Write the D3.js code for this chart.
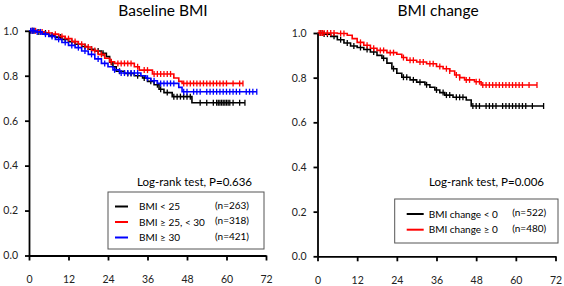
<!DOCTYPE html>
<html>
<head>
<meta charset="utf-8">
<script src="https://cdn.jsdelivr.net/npm/d3@7"></script>
<style>
  body { margin: 0; background: #fff; }
  svg { display: block; font-family: Lato, "Open Sans", sans-serif; }
</style>
</head>
<body>
<script>
// Kaplan-Meier knots: [month, survival]
const bmiLow = [[0,1.0],[2,0.995],[4,0.99],[6,0.98],[8,0.972],[10,0.962],[12,0.952],[14,0.94],[16,0.93],[18,0.918],[20,0.91],[22,0.9],[23.5,0.885],[24.5,0.86],[25.5,0.84],[26.5,0.82],[29,0.81],[32,0.80],[34.5,0.79],[36,0.775],[38,0.76],[39.5,0.74],[41,0.725],[43.5,0.707],[49.5,0.68],[65.6,0.68]];
const bmiMid = [[0,1.0],[3,0.995],[5,0.99],[7,0.985],[9,0.975],[11,0.965],[13,0.952],[15,0.94],[17,0.928],[19,0.912],[21,0.895],[23,0.878],[24.5,0.862],[26,0.855],[32,0.84],[33.5,0.825],[37.5,0.808],[44,0.79],[45.5,0.775],[46.5,0.766],[65,0.766]];
const bmiHigh = [[0,1.0],[2,0.995],[4,0.985],[6,0.975],[8,0.962],[10,0.948],[12,0.935],[14,0.925],[16,0.91],[18,0.895],[20,0.875],[22,0.855],[24,0.84],[25.5,0.826],[27.5,0.812],[34,0.80],[35.5,0.789],[37,0.778],[39,0.766],[45.5,0.748],[46.5,0.729],[69.2,0.729]];
const changeNeg = [[0,1.0],[2,0.995],[4,0.985],[6,0.97],[8,0.955],[10,0.942],[12,0.935],[14,0.926],[16,0.915],[18,0.9],[19.5,0.887],[21,0.865],[22.5,0.84],[24,0.82],[25.5,0.802],[28,0.79],[30,0.78],[32.5,0.768],[34,0.757],[35.5,0.745],[37,0.733],[38.5,0.722],[41,0.712],[45,0.70],[46.5,0.673],[68.4,0.673]];
const changePos = [[0,1.0],[6,0.998],[9,0.99],[10.5,0.975],[12,0.958],[14,0.945],[16,0.932],[18,0.922],[21,0.912],[24,0.905],[25.5,0.89],[27,0.878],[30,0.87],[33,0.862],[36,0.85],[38,0.84],[40,0.83],[41.5,0.812],[43,0.80],[44.5,0.79],[47.5,0.782],[49.5,0.767],[66.4,0.767]];

// censoring times (months)
const censLow = [1,1.5,3,5,7,9.5,11,13,15,17,19,21,22.5,25,27.5,30,31,33,35,37,39,40,42,44,45,46,47,48,49,52,54,56,57,57.5,58,58.5,59,59.5,60,60.5,61,62,64,65.6];
const censMid = [1,2,4,6,8,10,12,14,16,18,20,22,25,27,28,29,30,31,33,35,36,38,39,40,41,42,43,47,48,49,50,51,52,53,54,55,56,57,58,59,60,62,64,65];
const censHigh = [0.5,1,1.5,2.5,3.5,5,7,9,11,13,15,17,19,21,23,26,28,29,30,31,32,33,36,38,40,41,42,43,44,47,48,50,51,52,54,55,56,57,58,59,60,61,62,63,64,66,67,68,69.2];
const censNeg = [1,2,3,5,7,9,11,13,15,17,20,23,26,27,29,31,33,36,38,39,40,42,43,44,47,48,49,51,52,53,54,56,57,58,59,60,61,62,63,65,68.4];
const censPos = [0.5,1,1.5,2,3,4,5,7,8,13,15,17,19,20,22,23,26,28,29,31,32,34,35,37,39,40,42,43,45,46,48,49,50,51,52,53,54,55,56,57,58,59,60,61,62,64,66.4];

const xTicks = [0, 12, 24, 36, 48, 60, 72];
const yTicks = [0, 0.2, 0.4, 0.6, 0.8, 1.0];

const W = 564, H = 286;
const svg = d3.select("body").append("svg").attr("width", W).attr("height", H);

function survAt(curve, t) {
    let s = curve[0][1];
    curve.forEach(k => { if (k[0] <= t) s = k[1]; });
    return s;
}

function drawPanel(p) {
    const x = d3.scaleLinear().domain([0, 72]).range([p.left, p.right]);
    const y = d3.scaleLinear().domain([0, 1]).range([p.bottom, p.top]);
    const g = svg.append("g");

    // curves
    p.series.forEach(s => {
        g.append("path")
            .datum(s.knots)
            .attr("fill", "none")
            .attr("stroke", s.color)
            .attr("stroke-width", 1.6)
            .attr("d", d3.line().curve(d3.curveStepAfter).x(d => x(d[0])).y(d => y(d[1])));

        g.append("g").selectAll("line")
            .data(s.cens)
            .enter().append("line")
            .attr("x1", d => x(d)).attr("x2", d => x(d))
            .attr("y1", d => y(survAt(s.knots, d)) - 3)
            .attr("y2", d => y(survAt(s.knots, d)) + 3)
            .attr("stroke", s.color)
            .attr("stroke-width", 1.3);
    });

    // axes
    const ax = g.append("g")
        .attr("transform", `translate(0,${p.bottom})`)
        .call(d3.axisBottom(x).tickValues(xTicks).tickSize(5).tickPadding(15).tickSizeOuter(0));
    const ay = g.append("g")
        .attr("transform", `translate(${p.left},0)`)
        .call(d3.axisLeft(y).tickValues(yTicks).tickFormat(d3.format(".1f")).tickSize(4).tickPadding(7).tickSizeOuter(0));
    [ax, ay].forEach(a => {
        a.select(".domain").attr("stroke-width", 1.8);
        a.selectAll(".tick line").attr("stroke-width", 1.8);
        a.selectAll("text").attr("font-size", 10.5).attr("fill", "#222").attr("font-family", "Lato, sans-serif");
    });

    // title
    g.append("text")
        .attr("x", p.titleX).attr("y", 16)
        .attr("text-anchor", "middle")
        .attr("font-size", 15.5)
        .text(p.title);

    // log-rank
    g.append("text")
        .attr("x", p.testX).attr("y", 186)
        .attr("font-size", 11.5)
        .text(p.test);

    // legend
    const lg = p.legend;
    g.append("rect")
        .attr("x", lg.x).attr("y", lg.y).attr("width", lg.w).attr("height", lg.h)
        .attr("fill", "#fff").attr("stroke", "#555").attr("stroke-width", 1);
    p.series.forEach((s, i) => {
        const ry = lg.y + lg.first + i * lg.step;
        g.append("line")
            .attr("x1", lg.x + lg.lineX).attr("x2", lg.x + lg.lineX + lg.lineW)
            .attr("y1", ry).attr("y2", ry)
            .attr("stroke", s.color).attr("stroke-width", 2);
        g.append("text")
            .attr("x", lg.x + lg.textX).attr("y", ry + 3.5)
            .attr("font-size", 10)
            .text(s.label);
        g.append("text")
            .attr("x", lg.x + lg.nX).attr("y", ry + 2)
            .attr("font-size", 10)
            .text(s.n);
    });
}

drawPanel({
    left: 29, right: 266, top: 30.8, bottom: 255.5,
    title: "Baseline BMI", titleX: 163,
    test: "Log-rank test, P=0.636", testX: 137,
    legend: { x: 108, y: 192, w: 156, h: 57, first: 14.5, step: 15.5, lineX: 7, lineW: 13, textX: 31, nX: 107 },
    series: [
        { knots: bmiLow, cens: censLow, color: "#000", label: "BMI < 25", n: "(n=263)" },
        { knots: bmiMid, cens: censMid, color: "#f00", label: "BMI ≥ 25, < 30", n: "(n=318)" },
        { knots: bmiHigh, cens: censHigh, color: "#00f", label: "BMI ≥ 30", n: "(n=421)" }
    ]
});

drawPanel({
    left: 317.5, right: 555.5, top: 33, bottom: 256.3,
    title: "BMI change", titleX: 438,
    test: "Log-rank test, P=0.006", testX: 429,
    legend: { x: 394.7, y: 199, w: 163.3, h: 44, first: 15, step: 15.7, lineX: 12, lineW: 17, textX: 34, nX: 117.5 },
    series: [
        { knots: changeNeg, cens: censNeg, color: "#000", label: "BMI change < 0", n: "(n=522)" },
        { knots: changePos, cens: censPos, color: "#f00", label: "BMI change ≥ 0", n: "(n=480)" }
    ]
});
</script>
</body>
</html>
